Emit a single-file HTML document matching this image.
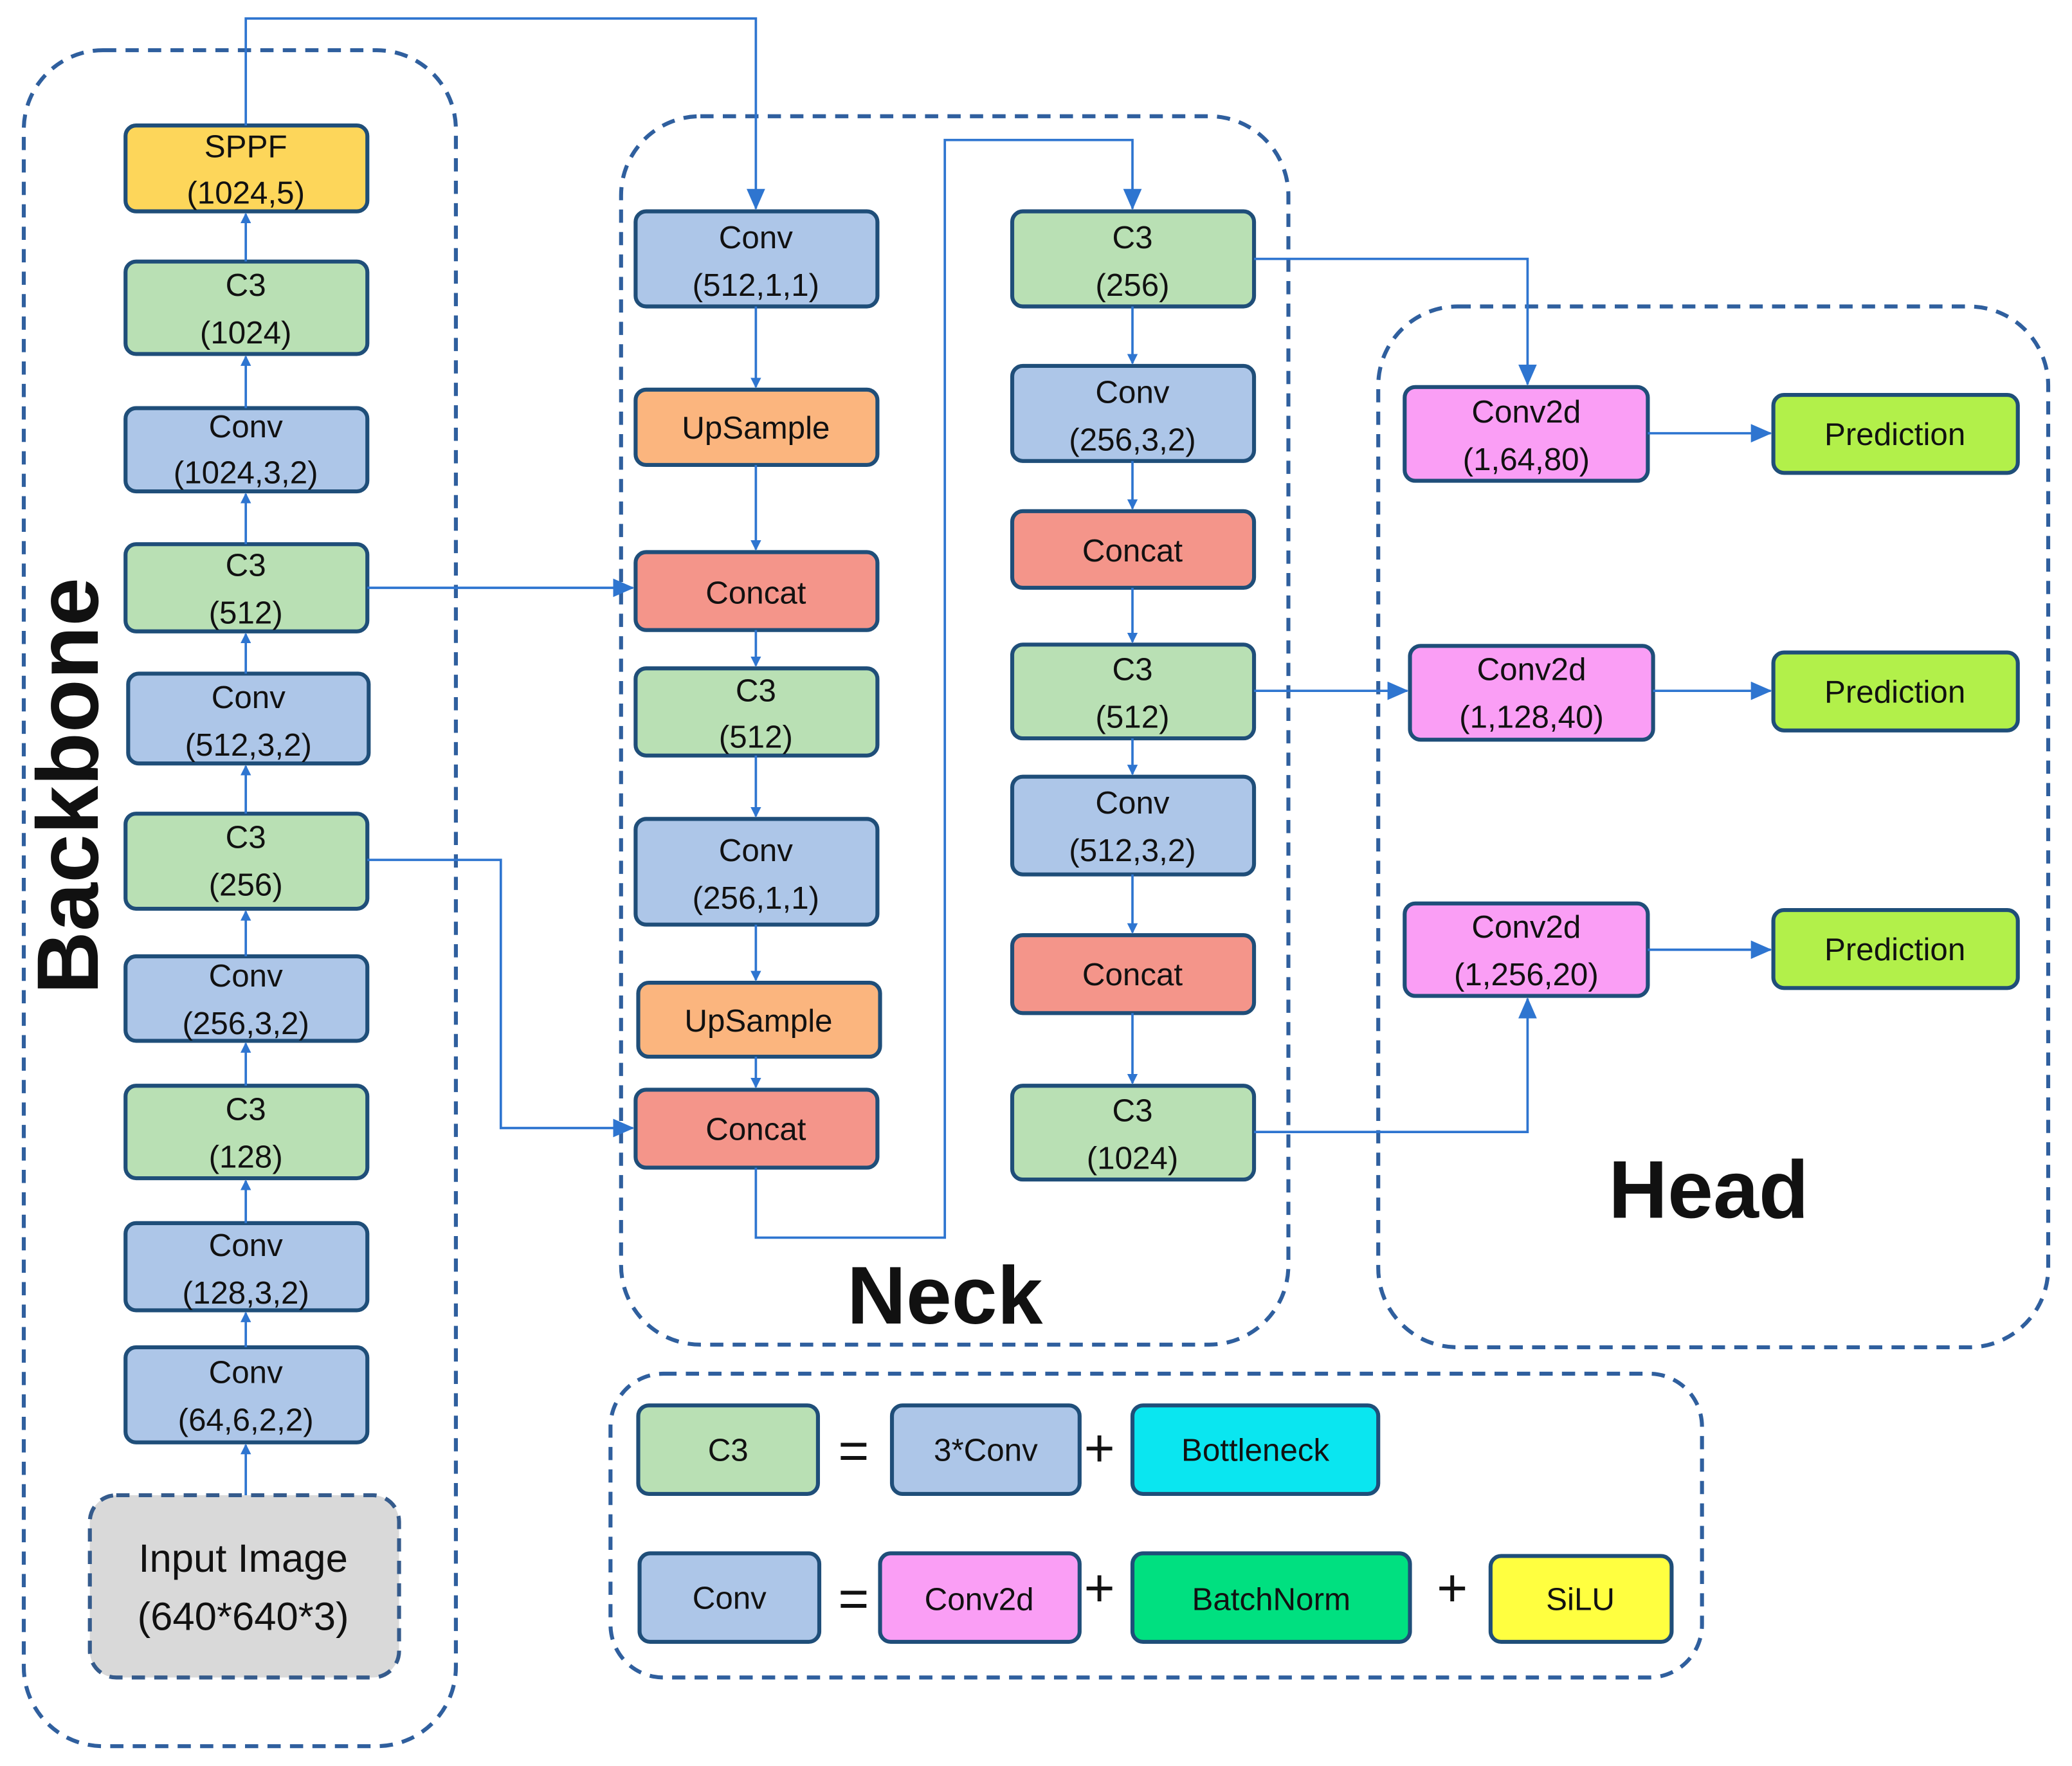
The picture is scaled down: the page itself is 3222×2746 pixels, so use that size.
<!DOCTYPE html>
<html><head><meta charset="utf-8"><style>
html,body{margin:0;padding:0;background:#fff;}
svg{display:block;}
text{font-family:"Liberation Sans",sans-serif;fill:#111;}
</style></head><body>
<svg width="3222" height="2746" viewBox="0 0 1568 1337" preserveAspectRatio="none" xmlns="http://www.w3.org/2000/svg">
<defs>
<marker id="a" markerWidth="8" markerHeight="8" refX="7" refY="4" orient="auto" markerUnits="userSpaceOnUse" viewBox="0 0 8 8"><path d="M0,0 L8,4 L0,8 z" fill="#2e75d0"/></marker>
<marker id="b" markerWidth="16" markerHeight="14" refX="15" refY="7" orient="auto" markerUnits="userSpaceOnUse" viewBox="0 0 16 14"><path d="M0,0 L16,7 L0,14 z" fill="#2e75d0"/></marker>
</defs>
<g fill="none" stroke="#2f5f9e" stroke-width="3" stroke-dasharray="10,7">
<rect x="18" y="38" width="327" height="1284" rx="60"/>
<rect x="470" y="88" width="505" height="930" rx="60"/>
<rect x="1043" y="232" width="507" height="788" rx="60"/>
<rect x="462" y="1040" width="826" height="230" rx="40"/>
<rect x="68" y="1132" width="234" height="138" rx="20" fill="#d9d9d9" stroke="#355b8c"/>
</g>
<text x="184" y="1190" font-size="30" text-anchor="middle">Input Image</text>
<text x="184" y="1234" font-size="30" text-anchor="middle">(640*640*3)</text>
<g stroke="#1f4e79" stroke-width="3">
<!-- backbone -->
<rect x="95" y="95" width="183" height="65" rx="8" fill="#fdd65a"/>
<rect x="95" y="198" width="183" height="70" rx="8" fill="#b9e0b4"/>
<rect x="95" y="309" width="183" height="63" rx="8" fill="#adc6e8"/>
<rect x="95" y="412" width="183" height="66" rx="8" fill="#b9e0b4"/>
<rect x="97" y="510" width="182" height="68" rx="8" fill="#adc6e8"/>
<rect x="95" y="616" width="183" height="72" rx="8" fill="#b9e0b4"/>
<rect x="95" y="724" width="183" height="64" rx="8" fill="#adc6e8"/>
<rect x="95" y="822" width="183" height="70" rx="8" fill="#b9e0b4"/>
<rect x="95" y="926" width="183" height="66" rx="8" fill="#adc6e8"/>
<rect x="95" y="1020" width="183" height="72" rx="8" fill="#adc6e8"/>
<!-- neck col1 -->
<rect x="481" y="160" width="183" height="72" rx="8" fill="#adc6e8"/>
<rect x="481" y="295" width="183" height="57" rx="8" fill="#fbb57e"/>
<rect x="481" y="418" width="183" height="59" rx="8" fill="#f4958a"/>
<rect x="481" y="506" width="183" height="66" rx="8" fill="#b9e0b4"/>
<rect x="481" y="620" width="183" height="80" rx="8" fill="#adc6e8"/>
<rect x="483" y="744" width="183" height="56" rx="8" fill="#fbb57e"/>
<rect x="481" y="825" width="183" height="59" rx="8" fill="#f4958a"/>
<!-- neck col2 -->
<rect x="766" y="160" width="183" height="72" rx="8" fill="#b9e0b4"/>
<rect x="766" y="277" width="183" height="72" rx="8" fill="#adc6e8"/>
<rect x="766" y="387" width="183" height="58" rx="8" fill="#f4958a"/>
<rect x="766" y="488" width="183" height="71" rx="8" fill="#b9e0b4"/>
<rect x="766" y="588" width="183" height="74" rx="8" fill="#adc6e8"/>
<rect x="766" y="708" width="183" height="59" rx="8" fill="#f4958a"/>
<rect x="766" y="822" width="183" height="71" rx="8" fill="#b9e0b4"/>
<!-- head -->
<rect x="1063" y="293" width="184" height="71" rx="8" fill="#fa9ef5"/>
<rect x="1067" y="489" width="184" height="71" rx="8" fill="#fa9ef5"/>
<rect x="1063" y="684" width="184" height="70" rx="8" fill="#fa9ef5"/>
<rect x="1342" y="299" width="185" height="59" rx="8" fill="#b2f04a"/>
<rect x="1342" y="494" width="185" height="59" rx="8" fill="#b2f04a"/>
<rect x="1342" y="689" width="185" height="59" rx="8" fill="#b2f04a"/>
<!-- legend -->
<rect x="483" y="1064" width="136" height="67" rx="8" fill="#b9e0b4"/>
<rect x="675" y="1064" width="142" height="67" rx="8" fill="#adc6e8"/>
<rect x="857" y="1064" width="186" height="67" rx="8" fill="#0ae6f0"/>
<rect x="484" y="1176" width="136" height="67" rx="8" fill="#adc6e8"/>
<rect x="666" y="1176" width="151" height="67" rx="8" fill="#fa9ef5"/>
<rect x="857" y="1176" width="210" height="67" rx="8" fill="#00e080"/>
<rect x="1128" y="1178" width="137" height="65" rx="8" fill="#ffff40"/>
</g>
<g font-size="24" text-anchor="middle">
<text x="186" y="119">SPPF</text><text x="186" y="154">(1024,5)</text>
<text x="186" y="224">C3</text><text x="186" y="260">(1024)</text>
<text x="186" y="331">Conv</text><text x="186" y="366">(1024,3,2)</text>
<text x="186" y="436">C3</text><text x="186" y="472">(512)</text>
<text x="188" y="536">Conv</text><text x="188" y="572">(512,3,2)</text>
<text x="186" y="642">C3</text><text x="186" y="678">(256)</text>
<text x="186" y="747">Conv</text><text x="186" y="783">(256,3,2)</text>
<text x="186" y="848">C3</text><text x="186" y="884">(128)</text>
<text x="186" y="951">Conv</text><text x="186" y="987">(128,3,2)</text>
<text x="186" y="1047">Conv</text><text x="186" y="1083">(64,6,2,2)</text>

<text x="572" y="188">Conv</text><text x="572" y="224">(512,1,1)</text>
<text x="572" y="332">UpSample</text>
<text x="572" y="457">Concat</text>
<text x="572" y="531">C3</text><text x="572" y="566">(512)</text>
<text x="572" y="652">Conv</text><text x="572" y="688">(256,1,1)</text>
<text x="574" y="781">UpSample</text>
<text x="572" y="863">Concat</text>

<text x="857" y="188">C3</text><text x="857" y="224">(256)</text>
<text x="857" y="305">Conv</text><text x="857" y="341">(256,3,2)</text>
<text x="857" y="425">Concat</text>
<text x="857" y="515">C3</text><text x="857" y="551">(512)</text>
<text x="857" y="616">Conv</text><text x="857" y="652">(512,3,2)</text>
<text x="857" y="746">Concat</text>
<text x="857" y="849">C3</text><text x="857" y="885">(1024)</text>

<text x="1155" y="320">Conv2d</text><text x="1155" y="356">(1,64,80)</text>
<text x="1159" y="515">Conv2d</text><text x="1159" y="551">(1,128,40)</text>
<text x="1155" y="710">Conv2d</text><text x="1155" y="746">(1,256,20)</text>
<text x="1434" y="337">Prediction</text>
<text x="1434" y="532">Prediction</text>
<text x="1434" y="727">Prediction</text>

<text x="551" y="1106">C3</text>
<text x="746" y="1106">3*Conv</text>
<text x="950" y="1106">Bottleneck</text>
<text x="552" y="1218">Conv</text>
<text x="741" y="1219">Conv2d</text>
<text x="962" y="1219">BatchNorm</text>
<text x="1196" y="1219">SiLU</text>
</g>
<g font-size="40" text-anchor="middle">
<text x="646" y="1112">=</text><text x="832" y="1110">+</text>
<text x="646" y="1224">=</text><text x="832" y="1216">+</text><text x="1099" y="1216">+</text>
</g>
<text x="715" y="1002" font-size="62" font-weight="bold" text-anchor="middle">Neck</text>
<text x="1293" y="922" font-size="62" font-weight="bold" text-anchor="middle">Head</text>
<text transform="translate(74,595) rotate(-90)" font-size="66" font-weight="bold" text-anchor="middle">Backbone</text>

<g fill="none" stroke="#2e75d0" stroke-width="1.8">
<!-- backbone vertical arrows -->
<path d="M186,1132 V1094" marker-end="url(#a)"/>
<path d="M186,1020 V994" marker-end="url(#a)"/>
<path d="M186,926 V894" marker-end="url(#a)"/>
<path d="M186,822 V790" marker-end="url(#a)"/>
<path d="M186,724 V690" marker-end="url(#a)"/>
<path d="M186,616 V580" marker-end="url(#a)"/>
<path d="M186,510 V480" marker-end="url(#a)"/>
<path d="M186,412 V374" marker-end="url(#a)"/>
<path d="M186,309 V270" marker-end="url(#a)"/>
<path d="M186,198 V162" marker-end="url(#a)"/>
<!-- neck col1 -->
<path d="M572,232 V293" marker-end="url(#a)"/>
<path d="M572,352 V416" marker-end="url(#a)"/>
<path d="M572,477 V504" marker-end="url(#a)"/>
<path d="M572,572 V618" marker-end="url(#a)"/>
<path d="M572,700 V742" marker-end="url(#a)"/>
<path d="M572,800 V823" marker-end="url(#a)"/>
<!-- neck col2 -->
<path d="M857,232 V275" marker-end="url(#a)"/>
<path d="M857,349 V385" marker-end="url(#a)"/>
<path d="M857,445 V486" marker-end="url(#a)"/>
<path d="M857,559 V586" marker-end="url(#a)"/>
<path d="M857,662 V706" marker-end="url(#a)"/>
<path d="M857,767 V820" marker-end="url(#a)"/>
<!-- long connectors -->
<path d="M186,95 V14 H572 V158" marker-end="url(#b)"/>
<path d="M278,445 H479" marker-end="url(#b)"/>
<path d="M278,651 H379 V854 H479" marker-end="url(#b)"/>
<path d="M572,884 V937 H715 V106 H857 V158" marker-end="url(#b)"/>
<path d="M949,196 H1156 V291" marker-end="url(#b)"/>
<path d="M949,523 H1065" marker-end="url(#b)"/>
<path d="M949,857 H1156 V756" marker-end="url(#b)"/>
<path d="M1247,328 H1340" marker-end="url(#b)"/>
<path d="M1251,523 H1340" marker-end="url(#b)"/>
<path d="M1247,719 H1340" marker-end="url(#b)"/>
</g>
</svg>
</body></html>
